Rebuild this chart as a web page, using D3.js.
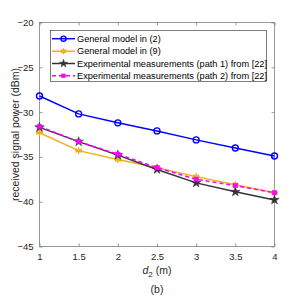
<!DOCTYPE html>
<html>
<head>
<meta charset="utf-8">
<script src="https://cdn.jsdelivr.net/npm/d3@7"></script>
<style>
  body { margin: 0; background: #fff; }
  text { font-family: "Liberation Sans", Arial, sans-serif; }
</style>
</head>
<body>
<div class="graph"></div>
<script>
// data
const distances = [1, 1.5, 2, 2.5, 3, 3.5, 4]
const model2 = [-28.2, -30.2, -31.2, -32.1, -33.1, -34.0, -34.9]
const model9 = [-32.3, -34.3, -35.3, -36.2, -37.2, -38.1, -39.0]
const path1 = [-31.7, -33.3, -34.8, -36.4, -37.9, -38.9, -39.8]
const path2 = [-31.6, -33.3, -34.7, -36.2, -37.5, -38.2, -39.0]
const xTicks = [1, 1.5, 2, 2.5, 3, 3.5, 4]
const yTicks = [-45, -40, -35, -30, -25, -20]
const seriesNames = ["General model in (2)", "General model in (9)",
  "Experimental measurements (path 1) from [22]", "Experimental measurements (path 2) from [22]"]

const w = 304
const h = 297
const pLeft = 39.5, pRight = 274.5, pTop = 22.5, pBottom = 246.5

const svg = d3.select(".graph")
  .append("svg")
  .attr("width", w)
  .attr("height", h)

const x = d3.scaleLinear().domain([1, 4]).range([pLeft, pRight])
const y = d3.scaleLinear().domain([-45, -20]).range([pBottom, pTop])

const axisColor = "#808080"

// axes box with inward ticks on all sides
svg.append("rect")
  .attr("x", pLeft).attr("y", pTop)
  .attr("width", pRight - pLeft).attr("height", pBottom - pTop)
  .attr("fill", "none").attr("stroke", axisColor).attr("stroke-width", 0.8)

const xAxis = svg.append("g").attr("transform", `translate(0,${pBottom})`)
  .call(d3.axisBottom(x).tickValues(xTicks).tickSizeInner(-3).tickSizeOuter(0).tickPadding(7).tickFormat(d3.format("")))
const xTop = svg.append("g").attr("transform", `translate(0,${pTop})`)
  .call(d3.axisTop(x).tickValues(xTicks).tickSizeInner(-3).tickSizeOuter(0).tickFormat(""))
const yAxis = svg.append("g").attr("transform", `translate(${pLeft},0)`)
  .call(d3.axisLeft(y).tickValues(yTicks).tickSizeInner(-3).tickSizeOuter(0).tickPadding(6))
const yRight = svg.append("g").attr("transform", `translate(${pRight},0)`)
  .call(d3.axisRight(y).tickValues(yTicks).tickSizeInner(-3).tickSizeOuter(0).tickFormat(""))

;[xAxis, xTop, yAxis, yRight].forEach(g => {
  g.select(".domain").remove()
  g.selectAll("line").attr("stroke", axisColor).attr("stroke-width", 0.8)
  g.selectAll("text").attr("fill", "#262626").style("font-size", "9.5px")
    .style("font-family", "Liberation Sans, Arial, sans-serif")
})

// labels
svg.append("text")
  .attr("transform", `translate(15,${(pTop + pBottom) / 2}) rotate(-90)`)
  .attr("text-anchor", "middle").attr("dy", "0.35em")
  .style("font-size", "10.5px").attr("fill", "#262626")
  .text("received signal power (dBm)")

const xl = svg.append("text")
  .attr("x", (pLeft + pRight) / 2).attr("y", 274)
  .attr("text-anchor", "middle")
  .style("font-size", "10.5px").attr("fill", "#262626")
xl.append("tspan").style("font-style", "italic").text("d")
xl.append("tspan").attr("dy", 3).style("font-size", "8px").text("2")
xl.append("tspan").attr("dy", -3).text(" (m)")

svg.append("text")
  .attr("x", 157).attr("y", 293)
  .attr("text-anchor", "middle")
  .style("font-size", "10.5px").attr("fill", "#262626")
  .text("(b)")

// series
const series = [
  { vals: model2, color: "#0000ff", marker: "circle", dash: null, width: 1.5 },
  { vals: model9, color: "#EDB120", marker: "asterisk", dash: null, width: 1.5 },
  { vals: path1, color: "#333333", marker: "star", dash: null, width: 1.5 },
  { vals: path2, color: "#ff00ff", marker: "square", dash: "4,3", width: 1.5 }
]

function drawMarker(g, type, cx, cy, color, k) {
  if (type === "circle") {
    g.append("circle").attr("cx", cx).attr("cy", cy).attr("r", 3 * k)
      .attr("fill", "none").attr("stroke", color).attr("stroke-width", 1.4)
  } else if (type === "asterisk") {
    const p = d3.path()
    const r = 3.5 * k
    for (let a = 0; a < 3; a++) {
      const ang = Math.PI / 2 + a * Math.PI / 3
      p.moveTo(cx - r * Math.cos(ang), cy - r * Math.sin(ang))
      p.lineTo(cx + r * Math.cos(ang), cy + r * Math.sin(ang))
    }
    p.moveTo(cx - r, cy)
    p.lineTo(cx + r, cy)
    g.append("path").attr("d", p.toString()).attr("stroke", color).attr("stroke-width", 1.4)
  } else if (type === "star") {
    g.append("path").attr("d", d3.symbol(d3.symbolStar, 28 * k * k)())
      .attr("transform", `translate(${cx},${cy})`)
      .attr("fill", color).attr("stroke", color).attr("stroke-width", 0.5)
  } else if (type === "square") {
    const s = 2.2 * k
    g.append("rect").attr("x", cx - s).attr("y", cy - s).attr("width", 2 * s).attr("height", 2 * s)
      .attr("fill", color).attr("stroke", color).attr("stroke-width", 0.5)
  }
}

const line = d3.line().x((d, i) => x(distances[i])).y(d => y(d))

series.forEach(s => {
  const g = svg.append("g")
  g.append("path").datum(s.vals).attr("d", line)
    .attr("fill", "none").attr("stroke", s.color).attr("stroke-width", s.width)
    .attr("stroke-dasharray", s.dash)
  s.vals.forEach((v, i) => drawMarker(g, s.marker, x(distances[i]), y(v), s.color, 1))
})

// legend
const lg = svg.append("g")
lg.append("rect").attr("x", 50.5).attr("y", 30.5).attr("width", 216).attr("height", 51)
  .attr("fill", "#fff").attr("stroke", "#262626").attr("stroke-width", 0.6)
const rowY = [38.7, 51.2, 63.5, 75.8]
series.forEach((s, i) => {
  const yy = rowY[i]
  lg.append("line").attr("x1", 52).attr("x2", 75).attr("y1", yy).attr("y2", yy)
    .attr("stroke", s.color).attr("stroke-width", s.width).attr("stroke-dasharray", s.dash)
  drawMarker(lg, s.marker, 63.5, yy, s.color, 0.85)
  lg.append("text").attr("x", 77).attr("y", yy).attr("dy", "0.35em")
    .style("font-size", "9.2px").attr("fill", "#000").text(seriesNames[i])
})
</script>
</body>
</html>
